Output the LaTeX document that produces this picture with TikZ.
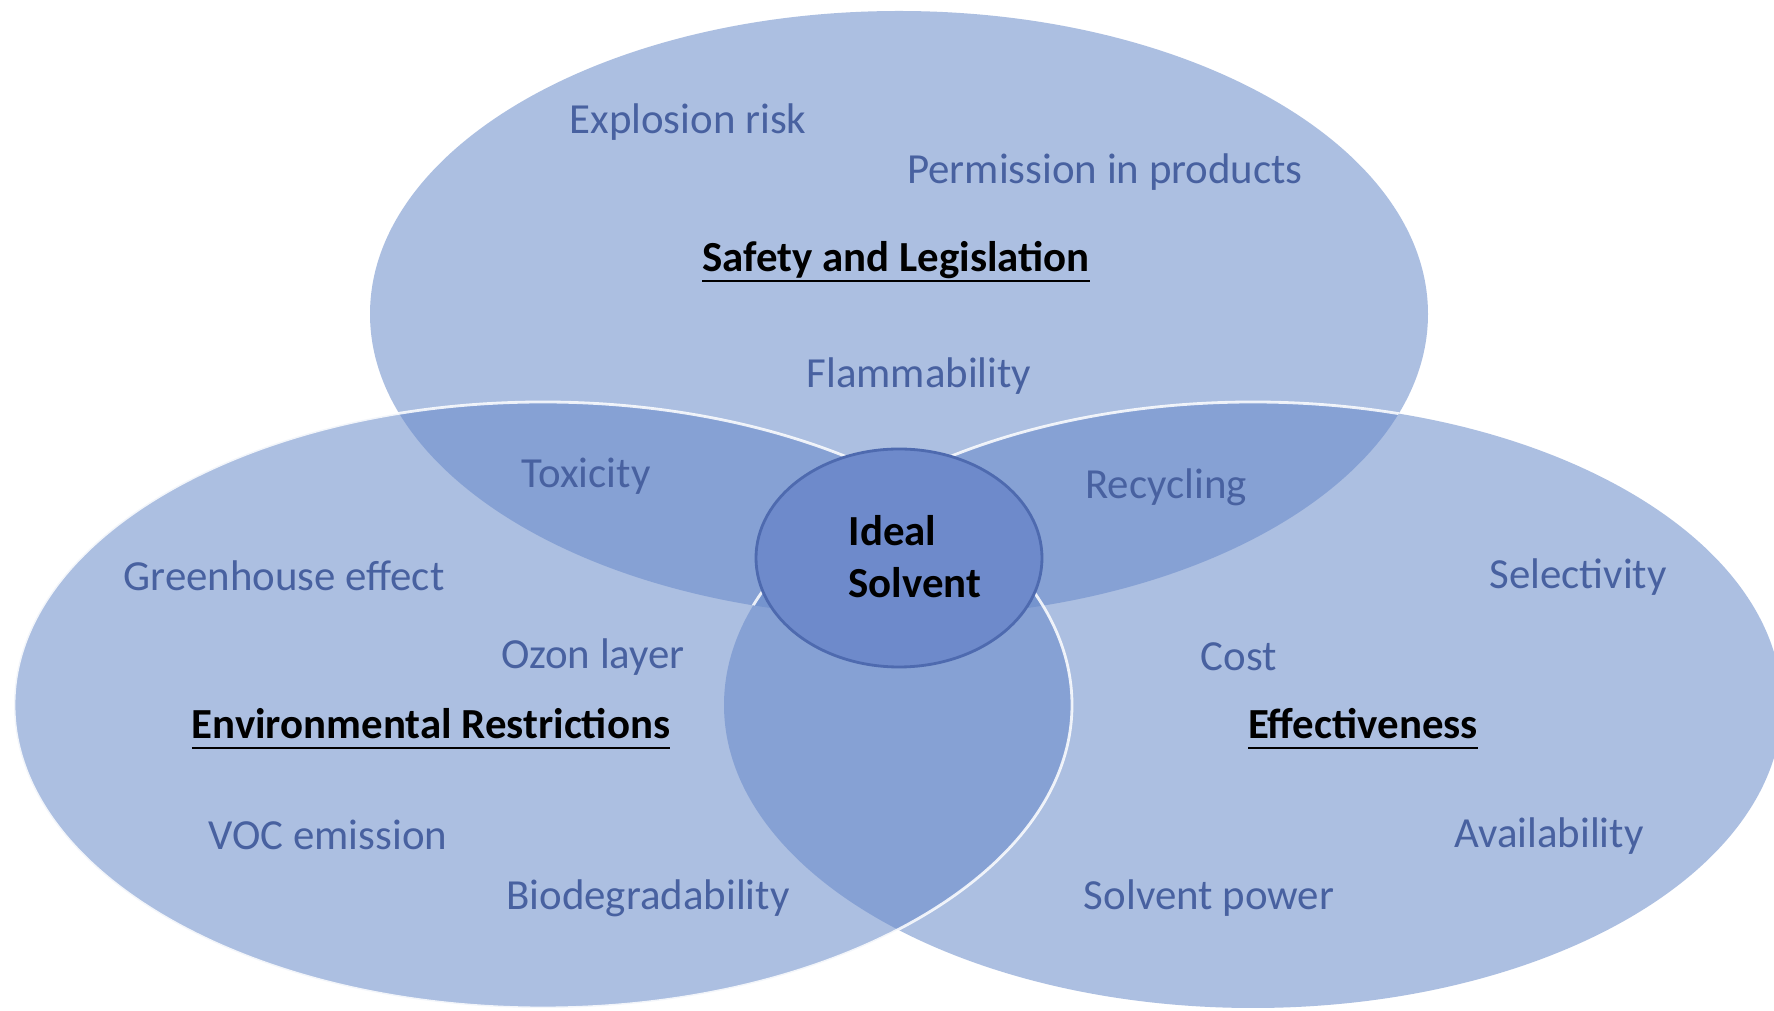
\documentclass[tikz,border=0pt]{standalone}
\usepackage{fontspec}
\setmainfont{Carlito}
\definecolor{vennblue}{RGB}{103,137,201}
\definecolor{itemblue}{RGB}{72,97,160}
\definecolor{coreblue}{RGB}{110,138,203}
\definecolor{corerim}{RGB}{78,106,175}
\newcommand\headtext[1]{\sbox0{#1}\rlap{\rule[-3pt]{\wd0}{0.8pt}}\usebox0}
\tikzset{
  venn/.style={fill=vennblue, fill opacity=0.54},
  vennrim/.style={draw=white, draw opacity=0.85, line width=0.8pt},
  item/.style={text=itemblue, font=\fontsize{12.2}{14.8}\selectfont, inner sep=0pt},
  heading/.style={text=black, font=\fontsize{12.2}{14.8}\selectfont\bfseries, inner sep=0pt},
}
\begin{document}
\begin{tikzpicture}
\useasboundingbox (0,0) rectangle (17.74,-10.11);
\fill[white] (0,0) rectangle (17.74,-10.11); % background
\fill[venn] (8.99,-3.14) ellipse (5.29 and 3.03); % safety
\fill[venn] (12.53,-7.05) ellipse (5.29 and 3.03); % effectiveness
\fill[venn] (5.43,-7.05) ellipse (5.29 and 3.03); % environment
\begin{scope}
  \clip (8.99,-3.14) ellipse (5.29 and 3.03);
  \draw[vennrim] (12.53,-7.05) ellipse (5.29 and 3.03); % rim of effectiveness over safety
\end{scope}
\draw[vennrim] (5.43,-7.05) ellipse (5.29 and 3.03); % rim of environment
\draw[fill=coreblue, draw=corerim, line width=0.8pt] (8.99,-5.58) ellipse (1.43 and 1.09); % centre

% safety and legislation
\node[item] (explosion) at (6.88,-1.22) {Explosion risk};
\node[item] (permission) at (11.05,-1.72) {Permission in products};
\node[heading] (safety) at (8.96,-2.62) {\headtext{Safety and Legislation}};
\node[item] (flammability) at (9.19,-3.76) {Flammability};
\node[item] (toxicity) at (5.86,-4.76) {Toxicity};
\node[item] (recycling) at (11.66,-4.87) {Recycling};
% centre
\node[heading, align=left] (ideal) at (9.15,-5.57) {Ideal\\Solvent};
% environmental restrictions
\node[item] (greenhouse) at (2.84,-5.76) {Greenhouse effect};
\node[item] (ozon) at (5.93,-6.57) {Ozon layer};
\node[heading] (environment) at (4.31,-7.29) {\headtext{Environmental Restrictions}};
\node[item] (voc) at (3.28,-8.35) {VOC emission};
\node[item] (biodegradability) at (6.48,-8.98) {Biodegradability};
% effectiveness
\node[item] (selectivity) at (15.78,-5.77) {Selectivity};
\node[item] (cost) at (12.39,-6.57) {Cost};
\node[heading] (effectiveness) at (13.63,-7.29) {\headtext{Effectiveness}};
\node[item] (availability) at (15.49,-8.36) {Availability};
\node[item] (solventpower) at (12.09,-8.98) {Solvent power};
\end{tikzpicture}
\end{document}
